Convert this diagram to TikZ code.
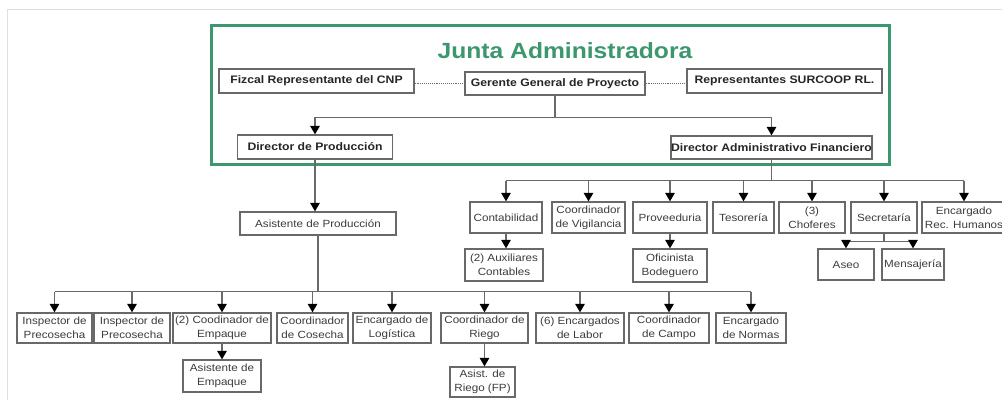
\documentclass[tikz,border=0pt]{standalone}
\usepackage{fontspec}
\setmainfont[FakeStretch=1.12]{Liberation Sans}
\usetikzlibrary{arrows.meta}

\definecolor{juntagreen}{RGB}{60,150,110}
\definecolor{boxgray}{RGB}{105,105,105}
\definecolor{txtgray}{RGB}{60,60,60}

\tikzset{
  box/.style={draw=boxgray, line width=1.3pt, fill=white, inner sep=0pt, align=center,
    text=txtgray, font=\fontsize{10.4}{14}\selectfont},
  topbox/.style={box, text=black!85, font=\fontsize{10.9}{13}\selectfont\bfseries},
  link/.style={draw=boxgray, line width=1.4pt},
  arr/.style={link, -{Triangle[width=9.5pt,length=8.5pt,color=black]}},
  dotlink/.style={draw=boxgray, line width=0.9pt, densely dotted}
}

\begin{document}
\begin{tikzpicture}[x=1pt,y=-1pt]
  \useasboundingbox (0,0) rectangle (1002,400);
  \fill[white] (0,0) rectangle (1002,400);
  \draw[gray!25, line width=0.8pt] (7,400) -- (7,9) -- (1002,9);

  \draw[juntagreen, line width=3pt] (211,25) rectangle (889,164);
  \node[font=\fontsize{22}{24}\selectfont\bfseries, text=juntagreen] (title) at (565,51) {Junta Administradora};

  \node[topbox, minimum width=195pt, minimum height=24pt] (fiscal) at (316.5,81) {Fizcal Representante del CNP};
  \node[topbox, minimum width=180pt, minimum height=23pt] (gerente) at (555,83.5) {Gerente General de Proyecto};
  \node[topbox, minimum width=195pt, minimum height=24pt] (repres) at (784.5,81) {Representantes SURCOOP RL.};
  \node[topbox, minimum width=155pt, minimum height=24pt] (dirprod) at (315,147) {Director de Producción};
  \node[topbox, minimum width=201pt, minimum height=23pt] (daf) at (771.5,147.5) {Director Administrativo Financiero};

  \draw[dotlink] (fiscal.east |- gerente.west) -- (gerente.west);
  \draw[dotlink] (gerente.east) -- (repres.west |- gerente.east);
  \draw[link] (gerente.south) -- ++(0,22) coordinate (gbus);
  \draw[arr] (gbus) -| (dirprod.north);
  \draw[arr] (gbus) -| (daf.north);

  \node[box, minimum width=156pt, minimum height=23pt] (asprod) at (318,223.5) {Asistente de Producción};
  \draw[arr] (dirprod.south) -- (dirprod.south |- asprod.north);

  \node[box, minimum width=72pt, minimum height=31pt] (contab) at (506,217.5) {Contabilidad};
  \node[box, minimum width=73pt, minimum height=31pt] (vigil) at (588.5,217.5) {Coordinador\\de Vigilancia};
  \node[box, minimum width=74pt, minimum height=31pt] (prove) at (670,217.5) {Proveeduria};
  \node[box, minimum width=61pt, minimum height=31pt] (tesor) at (743.5,217.5) {Tesorería};
  \node[box, minimum width=66pt, minimum height=31pt] (chofer) at (812,217.5) {(3)\\Choferes};
  \node[box, minimum width=66pt, minimum height=31pt] (secre) at (884,217.5) {Secretaría};
  \node[box, minimum width=84pt, minimum height=31pt] (rechum) at (964,217.5) {Encargado\\Rec. Humanos};

  \node[box, minimum width=78pt, minimum height=32pt] (auxcont) at (504,265) {(2) Auxiliares\\Contables};
  \node[box, minimum width=74pt, minimum height=33pt] (oficin) at (670,265.5) {Oficinista\\Bodeguero};
  \node[box, minimum width=56pt, minimum height=31pt] (aseo) at (846,264.5) {Aseo};
  \node[box, minimum width=62pt, minimum height=31pt] (mensaj) at (913,264.5) {Mensajería};

  \draw[link] (daf.south) -- ++(0,21) coordinate (fbus);
  \draw[link] (contab.north |- fbus) -- (rechum.north |- fbus);
  \draw[arr] (contab.north |- fbus) -- (contab.north);
  \draw[arr] (vigil.north |- fbus) -- (vigil.north);
  \draw[arr] (prove.north |- fbus) -- (prove.north);
  \draw[arr] (tesor.north |- fbus) -- (tesor.north);
  \draw[arr] (chofer.north |- fbus) -- (chofer.north);
  \draw[arr] (secre.north |- fbus) -- (secre.north);
  \draw[arr] (rechum.north |- fbus) -- (rechum.north);
  \draw[arr] (contab.south) -- (contab.south |- auxcont.north);
  \draw[arr] (prove.south) -- (oficin.north);
  \draw[link] (secre.south) -- ++(0,8) coordinate (sbus);
  \draw[link] (aseo.north |- sbus) -- (mensaj.north |- sbus);
  \draw[arr] (aseo.north |- sbus) -- (aseo.north);
  \draw[arr] (mensaj.north |- sbus) -- (mensaj.north);

  \node[box, minimum width=75pt, minimum height=30pt] (inspA) at (54.5,328) {Inspector de\\Precosecha};
  \node[box, minimum width=76pt, minimum height=30pt] (inspB) at (132,328) {Inspector de\\Precosecha};
  \node[box, minimum width=98pt, minimum height=30pt] (coemp) at (222,328) {(2) Coodinador de\\Empaque};
  \node[box, minimum width=71pt, minimum height=30pt] (cocos) at (312.5,328) {Coordinador\\de Cosecha};
  \node[box, minimum width=78pt, minimum height=30pt] (enlog) at (392,328) {Encargado de\\Logística};
  \node[box, minimum width=87pt, minimum height=30pt] (corie) at (484.5,328) {Coordinador de\\Riego};
  \node[box, minimum width=88pt, minimum height=30pt] (enlab) at (580,328) {(6) Encargados\\de Labor};
  \node[box, minimum width=80pt, minimum height=30pt] (cocam) at (669,328) {Coordinador\\de Campo};
  \node[box, minimum width=70pt, minimum height=30pt] (ennor) at (751,328) {Encargado\\de Normas};

  \node[box, minimum width=78pt, minimum height=32pt] (asemp) at (222,376) {Asistente de\\Empaque};
  \node[box, minimum width=65pt, minimum height=30pt] (asrie) at (482.5,382) {Asist. de\\Riego (FP)};

  \draw[link] (asprod.south) -- ++(0,56) coordinate (pbus);
  \draw[link] (inspA.north |- pbus) -- (ennor.north |- pbus);
  \draw[arr] (inspA.north |- pbus) -- (inspA.north);
  \draw[arr] (inspB.north |- pbus) -- (inspB.north);
  \draw[arr] (coemp.north |- pbus) -- (coemp.north);
  \draw[arr] (cocos.north |- pbus) -- (cocos.north);
  \draw[arr] (enlog.north |- pbus) -- (enlog.north);
  \draw[arr] (corie.north |- pbus) -- (corie.north);
  \draw[arr] (enlab.north |- pbus) -- (enlab.north);
  \draw[arr] (cocam.north |- pbus) -- (cocam.north);
  \draw[arr] (ennor.north |- pbus) -- (ennor.north);
  \draw[arr] (coemp.south) -- (asemp.north);
  \draw[arr] (corie.south) -- (corie.south |- asrie.north);
\end{tikzpicture}
\end{document}
